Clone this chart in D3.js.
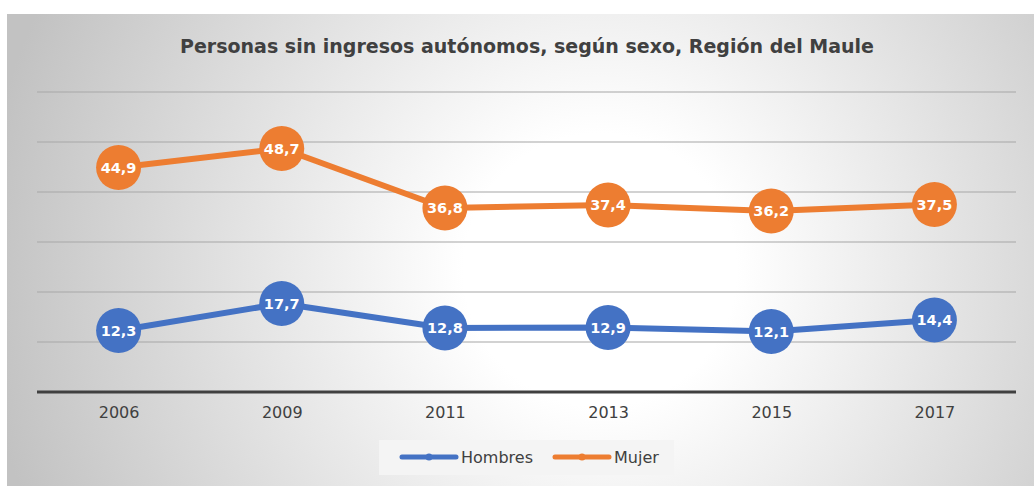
<!DOCTYPE html>
<html>
<head>
<meta charset="utf-8">
<script src="https://cdn.jsdelivr.net/npm/d3@7"></script>
<style>
  body { margin: 0; background: #fff; }
  text { font-family: Verdana, "DejaVu Sans", sans-serif; }
</style>
</head>
<body>
<div id="chart"></div>
<script>
// data
var years = ["2006", "2009", "2011", "2013", "2015", "2017"];
var hombres = [12.3, 17.7, 12.8, 12.9, 12.1, 14.4];
var mujer = [44.9, 48.7, 36.8, 37.4, 36.2, 37.5];
var gridTicks = [10, 20, 30, 40, 50, 60];

var W = 1034, H = 486;
var svg = d3.select("#chart").append("svg")
  .attr("width", W).attr("height", H);

// radial background like the excel chart area
var grad = svg.append("defs").append("radialGradient")
  .attr("id", "bg")
  .attr("gradientUnits", "userSpaceOnUse")
  .attr("cx", 600).attr("cy", 270).attr("r", 620);
grad.append("stop").attr("offset", "0%").attr("stop-color", "#ffffff");
grad.append("stop").attr("offset", "22%").attr("stop-color", "#ffffff");
grad.append("stop").attr("offset", "100%").attr("stop-color", "#c2c2c2");

svg.append("rect")
  .attr("x", 7).attr("y", 14)
  .attr("width", W - 7).attr("height", H - 14)
  .attr("fill", "url(#bg)");

var plot = { left: 37, right: 1016, top: 92, bottom: 392 };

var x = d3.scalePoint().domain(years)
  .range([plot.left, plot.right]).padding(0.5);
var y = d3.scaleLinear().domain([0, 60])
  .range([plot.bottom, plot.top]);

// gridlines
svg.append("g").selectAll("line")
  .data(gridTicks).enter().append("line")
  .attr("x1", plot.left).attr("x2", plot.right)
  .attr("y1", function (d) { return y(d); })
  .attr("y2", function (d) { return y(d); })
  .style("stroke", "#a9a9a9")
  .style("stroke-width", 1.3)
  .style("stroke-opacity", 0.7);

// x axis
var xAxis = svg.append("g")
  .attr("transform", "translate(0," + plot.bottom + ")")
  .call(d3.axisBottom(x).tickSize(0).tickPadding(15));
xAxis.select(".domain").remove();
xAxis.selectAll("text")
  .style("font-size", "16px")
  .style("fill", "#404040");
svg.append("line")
  .attr("x1", plot.left).attr("x2", plot.right)
  .attr("y1", plot.bottom).attr("y2", plot.bottom)
  .style("stroke", "#404040").style("stroke-width", 3);

// title
svg.append("text")
  .attr("x", 527).attr("y", 53)
  .attr("text-anchor", "middle")
  .style("font-size", "19px")
  .style("font-weight", "bold")
  .style("fill", "#404040")
  .text("Personas sin ingresos autónomos, según sexo, Región del Maule");

var series = [
  { name: "Hombres", values: hombres, color: "#4472C4" },
  { name: "Mujer", values: mujer, color: "#ED7D31" }
];

var line = d3.line()
  .x(function (d, i) { return x(years[i]); })
  .y(function (d) { return y(d); });

var fmt = function (v) { return v.toFixed(1).replace(".", ","); };

series.forEach(function (s) {
  var g = svg.append("g");
  g.append("path")
    .datum(s.values)
    .attr("d", line)
    .style("fill", "none")
    .style("stroke", s.color)
    .style("stroke-width", 6)
    .style("stroke-linejoin", "round");

  g.selectAll("circle")
    .data(s.values).enter().append("circle")
    .attr("cx", function (d, i) { return x(years[i]); })
    .attr("cy", function (d) { return y(d); })
    .attr("r", 22.5)
    .style("fill", s.color);

  g.selectAll("text.lbl")
    .data(s.values).enter().append("text")
    .attr("class", "lbl")
    .attr("x", function (d, i) { return x(years[i]); })
    .attr("y", function (d) { return y(d); })
    .attr("dy", "0.36em")
    .attr("text-anchor", "middle")
    .style("font-size", "14.5px")
    .style("font-weight", "bold")
    .style("fill", "#ffffff")
    .text(fmt);
});

// legend
var legend = svg.append("g");
legend.append("rect")
  .attr("x", 379).attr("y", 440)
  .attr("width", 295).attr("height", 35)
  .style("fill", "#f4f4f4");

var legX = [402, 555];
series.forEach(function (s, i) {
  var lg = legend.append("g").attr("transform", "translate(" + legX[i] + ",457)");
  lg.append("line")
    .attr("x1", 0).attr("x2", 54)
    .style("stroke", s.color).style("stroke-width", 5)
    .style("stroke-linecap", "round");
  lg.append("circle").attr("cx", 27).attr("r", 3.5).style("fill", s.color);
  lg.append("text")
    .attr("x", 59).attr("dy", "0.36em")
    .style("font-size", "16px")
    .style("fill", "#404040")
    .text(s.name);
});
</script>
</body>
</html>
